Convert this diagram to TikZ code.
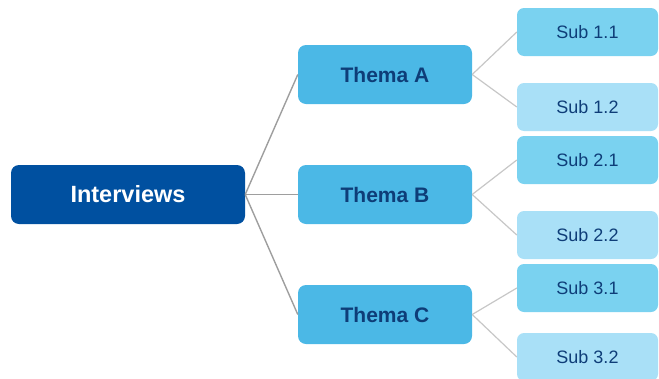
\documentclass[tikz,border=0pt]{standalone}
\usepackage{fontspec}
\setmainfont{Liberation Sans}
\usetikzlibrary{positioning}

\definecolor{rootblue}{HTML}{0050A0}
\definecolor{themablue}{HTML}{4BB8E6}
\definecolor{subdark}{HTML}{7AD2F0}
\definecolor{sublight}{HTML}{A9E0F7}
\definecolor{textnavy}{HTML}{0E3D78}

\tikzset{
	rootbox/.style={fill=rootblue, rounded corners=8pt, minimum width=234pt, minimum height=59pt, inner sep=0pt, text=white, font=\fontsize{23.5}{26}\selectfont\bfseries},
	themabox/.style={fill=themablue, rounded corners=8pt, minimum width=174pt, minimum height=59pt, inner sep=0pt, text=textnavy, font=\fontsize{21}{24}\selectfont\bfseries},
	subbox/.style={rounded corners=7pt, minimum width=141pt, minimum height=48pt, inner sep=0pt, text=textnavy, font=\fontsize{18}{21}\selectfont},
	rootlink/.style={line width=1.4pt, color=black!38},
	sublink/.style={line width=1.2pt, color=black!22}
}

\begin{document}
\begin{tikzpicture}[x=1pt, y=-1pt]
			%%%%% START %%%%%
			
			\useasboundingbox (0, 0) rectangle (659, 378);
			
			\node[rootbox] (interviews) at (128, 194.5) {Interviews};
			
			\node[themabox] (themaA) at (385, 74.5) {Thema A};
			\node[themabox] (themaB) at (385, 194.5) {Thema B};
			\node[themabox] (themaC) at (385, 314.5) {Thema C};
			
			\node[subbox, fill=subdark] (sub11) at (587.5, 32) {Sub 1.1};
			\node[subbox, fill=sublight] (sub12) at (587.5, 107) {Sub 1.2};
			\node[subbox, fill=subdark] (sub21) at (587.5, 160) {Sub 2.1};
			\node[subbox, fill=sublight] (sub22) at (587.5, 235) {Sub 2.2};
			\node[subbox, fill=subdark] (sub31) at (587.5, 288) {Sub 3.1};
			\node[subbox, fill=sublight] (sub32) at (587.5, 357) {Sub 3.2};
			
			\draw[rootlink] (interviews.east) -- (themaA.west);
			\draw[rootlink] (interviews.east) -- (themaB.west);
			\draw[rootlink] (interviews.east) -- (themaC.west);
			
			\draw[sublink] (themaA.east) -- (sub11.west);
			\draw[sublink] (themaA.east) -- (sub12.west);
			\draw[sublink] (themaB.east) -- (sub21.west);
			\draw[sublink] (themaB.east) -- (sub22.west);
			\draw[sublink] (themaC.east) -- (sub31.west);
			\draw[sublink] (themaC.east) -- (sub32.west);
			
			%%%%% END %%%%%
\end{tikzpicture}
\end{document}
